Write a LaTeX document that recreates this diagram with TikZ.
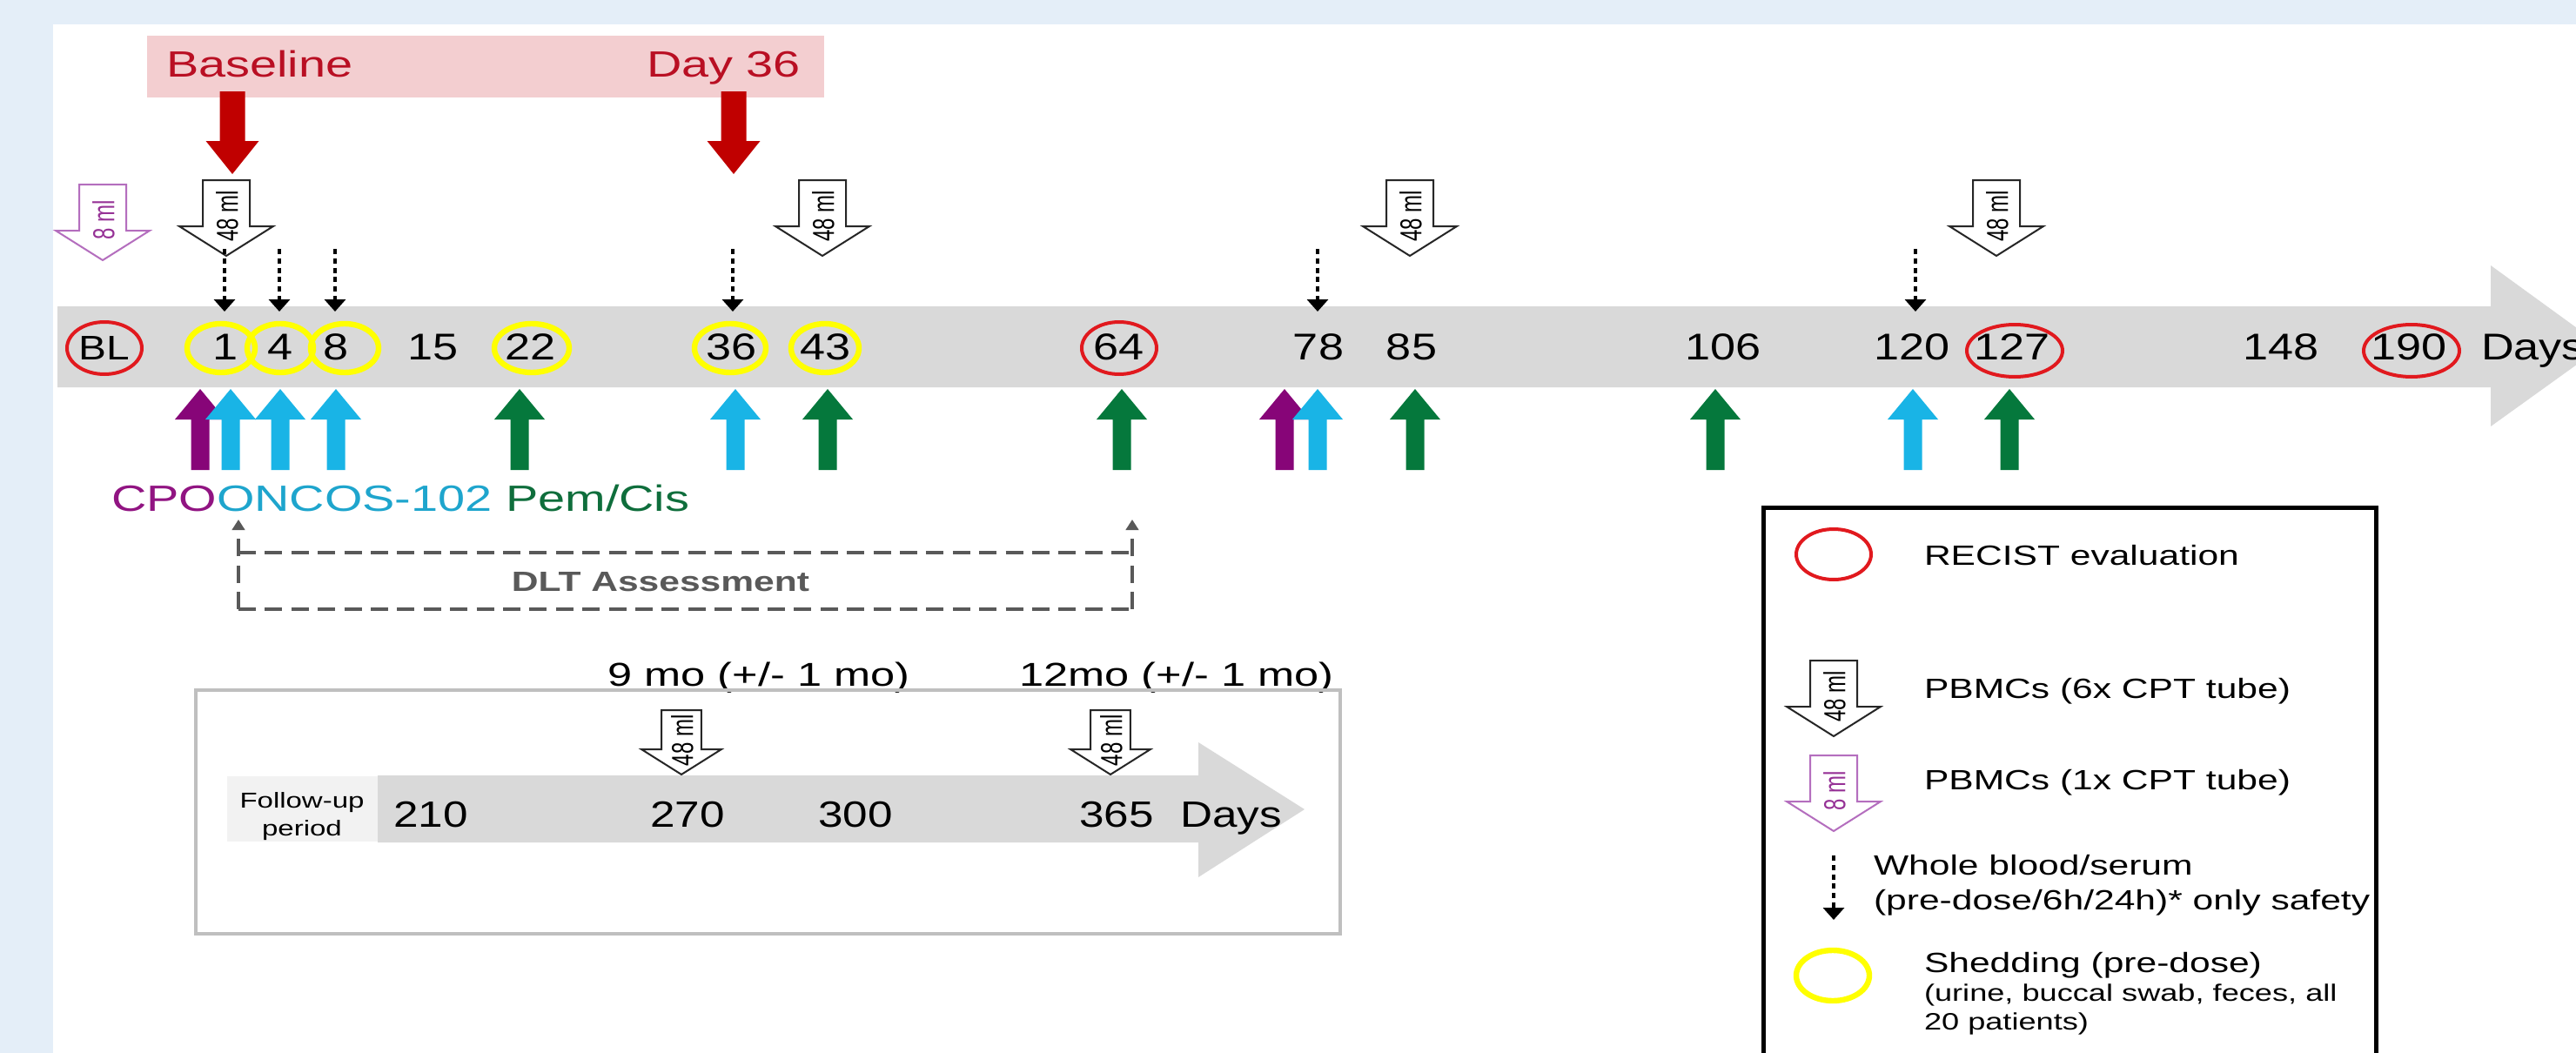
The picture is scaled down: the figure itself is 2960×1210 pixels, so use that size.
\documentclass[tikz,border=0pt]{standalone}
\usepackage{fontspec}
\setmainfont{Liberation Sans}[FakeStretch=1.33]
\newfontfamily\plainfont{Liberation Sans}
\newfontfamily\tlfont{Liberation Sans}[FakeStretch=1.22]
\usetikzlibrary{arrows.meta}

\definecolor{bgblue}{RGB}{228,238,248}
\definecolor{pinkband}{RGB}{243,206,208}
\definecolor{dred}{RGB}{192,0,0}
\definecolor{tred}{RGB}{185,15,35}
\definecolor{band}{RGB}{217,217,217}
\definecolor{lband}{RGB}{242,242,242}
\definecolor{ring}{RGB}{225,25,30}
\definecolor{yring}{RGB}{255,255,0}
\definecolor{parr}{RGB}{135,5,120}
\definecolor{carr}{RGB}{25,180,230}
\definecolor{garr}{RGB}{5,120,60}
\definecolor{ptext}{RGB}{145,20,130}
\definecolor{ctext}{RGB}{30,165,205}
\definecolor{gtext}{RGB}{15,110,60}
\definecolor{lpurple}{RGB}{180,110,190}
\definecolor{mpurple}{RGB}{150,50,150}
\definecolor{dltgray}{RGB}{89,89,89}
\definecolor{framegray}{RGB}{191,191,191}

\newcommand\setfs[1]{\fontsize{#1}{#1}\selectfont}

% block arrow pointing down: name, x, ytop, scale, line colour, text colour, text
\newcommand\blockarrow[7]{%
  \begin{scope}[shift={(#2,#3)}, scale=#4]
    \draw[#5, fill=white, line width=0.5pt, line join=miter]
      (-27,0) -- (27,0) -- (27,53) -- (54,53) -- (0,87) -- (-54,53) -- (-27,53) -- cycle;
    \node[text=#6, font=\plainfont\setfs{6}] (#1) at (1,41)
      {\rotatebox{90}{\scalebox{1}[1.45]{#7}}};
  \end{scope}}

% coloured up arrow: name, x, colour
\newcommand\uparr[3]{%
  \fill[#3] (#2-10.5,540) -- (#2-10.5,482) -- (#2-29,482) -- (#2,447)
    -- (#2+29,482) -- (#2+10.5,482) -- (#2+10.5,540) -- cycle;
  \coordinate (#1) at (#2,447);}

% red arrow: name, x
\newcommand\redarrow[2]{%
  \fill[dred] (#2-14.5,105) -- (#2+14.5,105) -- (#2+14.5,162) -- (#2+30.5,162)
    -- (#2,200) -- (#2-30.5,162) -- (#2-14.5,162) -- cycle;
  \coordinate (#1) at (#2,200);}

\tikzset{
  dotarrow/.style={line width=1pt, dash pattern=on 1.5pt off 1.2pt,
    -{Triangle[width=6pt,length=3.5pt]}},
  dltline/.style={dltgray, line width=1.2pt, dash pattern=on 5pt off 2.6pt},
  dltarrow/.style={dltline, -{Triangle[width=3.6pt,length=3pt]}},
  tl/.style={anchor=base, font=\tlfont\setfs{10.7}},
  lg/.style={anchor=base west, font=\setfs{8}},
  lgs/.style={anchor=base west, font=\setfs{6.8}},
  redring/.style={draw=ring, line width=1pt},
  yelring/.style={draw=yring, line width=1.6pt},
}

\begin{document}
\begin{tikzpicture}[x=0.25pt, y=-0.25pt, every node/.style={inner sep=0pt, outer sep=0pt}]
\useasboundingbox (0,0) rectangle (2960,1210);
\clip (0,0) rectangle (2960,1210);
\fill[bgblue] (0,0) rectangle (2960,1210);
\fill[white] (61,28) rectangle (2960,1210);

% ---- header band
\fill[pinkband] (169,41) rectangle (947,112);
\node[anchor=base west, text=tred, font=\setfs{10.5}] (baseline) at (191,88) {Baseline};
\node[anchor=base west, text=tred, font=\setfs{10.5}] (day36) at (743,88) {Day 36};
\redarrow{rA}{267}
\redarrow{rB}{843}

% ---- blood draw arrows
\blockarrow{pb0}{118}{212}{1}{lpurple}{mpurple}{8 ml}
\blockarrow{pb1}{260}{207}{1}{black!85}{black}{48 ml}
\blockarrow{pb2}{945}{207}{1}{black!85}{black}{48 ml}
\blockarrow{pb3}{1620}{207}{1}{black!85}{black}{48 ml}
\blockarrow{pb4}{2294}{207}{1}{black!85}{black}{48 ml}

% ---- main timeline arrow
\fill[band] (66,352) -- (2862,352) -- (2862,305) -- (2990,398) -- (2862,490)
  -- (2862,445) -- (66,445) -- cycle;

% dotted whole-blood arrows
\foreach \n/\x in {d1/258,d2/321,d3/385,d4/842,d5/1514,d6/2201}{
  \coordinate (\n s) at (\x,286);
  \coordinate (\n e) at (\x,358);
  \draw[dotarrow] (\n s) -- (\n e);
}

% rings
\draw[redring] (120,400) ellipse [x radius=43, y radius=30];
\foreach \x/\r in {254/39,322/38,396/39,611/43,839/41,948/39}{
  \draw[yelring] (\x,400) ellipse [x radius=\r, y radius=28];
}
\draw[redring] (1286,400) ellipse [x radius=43, y radius=30];
\draw[redring] (2315,403) ellipse [x radius=55, y radius=30];
\draw[redring] (2771,403) ellipse [x radius=55, y radius=30];

% labels
\node[anchor=base, font=\tlfont\setfs{9.8}] (tBL) at (120,413) {BL};
\foreach \x/\t in {259/1,322/4,386/8,498/15,610/22,841/36,949/43,1286/64,
                   1515/78,1622/85,1980/106,2197/120,2312/127,2621/148,2768/190}{
  \node[tl] (t\t) at (\x,413) {\t};
}
\node[anchor=base west, font=\tlfont\setfs{10.7}] (tDays) at (2851,413) {Days};

% ---- treatment arrows
\uparr{u0}{230}{parr}
\uparr{u1}{265}{carr}
\uparr{u2}{322}{carr}
\uparr{u3}{386}{carr}
\uparr{u4}{597}{garr}
\uparr{u5}{845}{carr}
\uparr{u6}{951}{garr}
\uparr{u7}{1289}{garr}
\uparr{u8}{1476}{parr}
\uparr{u9}{1514}{carr}
\uparr{u10}{1626}{garr}
\uparr{u11}{1971}{garr}
\uparr{u12}{2198}{carr}
\uparr{u13}{2309}{garr}

\node[anchor=base west, font=\setfs{10.5}] (drugs) at (128,587)
  {\textcolor{ptext}{CPO}\textcolor{ctext}{ONCOS-102} \textcolor{gtext}{Pem/Cis}};

% ---- DLT assessment
\coordinate (dl0) at (274,700);
\coordinate (dl1) at (274,597);
\coordinate (dr0) at (1301,700);
\coordinate (dr1) at (1301,597);
\coordinate (dtl) at (274,635);
\coordinate (dtr) at (1301,635);
\draw[dltline] (dl0) -- (dr0);
\draw[dltline] (dtl) -- (dtr);
\draw[dltarrow] (dl0) -- (dl1);
\draw[dltarrow] (dr0) -- (dr1);
\node[font=\bfseries\setfs{8}, text=dltgray] (dlt) at (759,669) {DLT Assessment};

% ---- follow-up
\node[anchor=base, font=\setfs{9.5}] (m9) at (872,788) {9 mo (+/- 1 mo)};
\node[anchor=base, font=\setfs{9.5}] (m12) at (1352,788) {12mo (+/- 1 mo)};
\draw[framegray, line width=1pt] (225,793) rectangle (1540,1073);
\fill[band] (434,891) -- (1377,891) -- (1377,853) -- (1499,930) -- (1377,1008)
  -- (1377,968) -- (434,968) -- cycle;
\fill[lband] (261,892) rectangle (434,967);
\node[align=center, font=\fontsize{6.2}{8}\selectfont] (fup) at (347,938) {Follow-up\\period};
\blockarrow{pf1}{783}{816}{0.85}{black!85}{black}{48 ml}
\blockarrow{pf2}{1276}{816}{0.85}{black!85}{black}{48 ml}
\foreach \x/\t in {495/210,790/270,983/300,1283/365}{
  \node[anchor=base, font=\tlfont\setfs{10.5}] (f\t) at (\x,950) {\t};
}
\node[anchor=base west, font=\tlfont\setfs{10.5}] (fDays) at (1356,950) {Days};

% ---- legend
\draw[redring] (2107,637) ellipse [x radius=43, y radius=29];
\node[lg] (lg1) at (2211,649) {RECIST evaluation};
\blockarrow{lb1}{2107}{759}{1}{black!85}{black}{48 ml}
\node[lg] (lg2) at (2211,802) {PBMCs (6x CPT tube)};
\blockarrow{lb2}{2107}{868}{1}{lpurple}{mpurple}{8 ml}
\node[lg] (lg3) at (2211,907) {PBMCs (1x CPT tube)};
\coordinate (ldS) at (2107,983);
\coordinate (ldE) at (2107,1057);
\draw[dotarrow] (ldS) -- (ldE);
\node[lg] (lg4) at (2153,1005) {Whole blood/serum};
\node[lg] (lg5) at (2153,1045) {(pre-dose/6h/24h)* only safety};
\draw[yelring] (2106,1121) ellipse [x radius=42, y radius=29];
\node[lg] (lg6) at (2211,1117) {Shedding (pre-dose)};
\node[lgs] (lg7) at (2211,1150) {(urine, buccal swab, feces, all};
\node[lgs] (lg8) at (2211,1183) {20 patients)};
\draw[black, line width=1.25pt] (2026,583) rectangle (2730,1240);
\end{tikzpicture}
\end{document}
